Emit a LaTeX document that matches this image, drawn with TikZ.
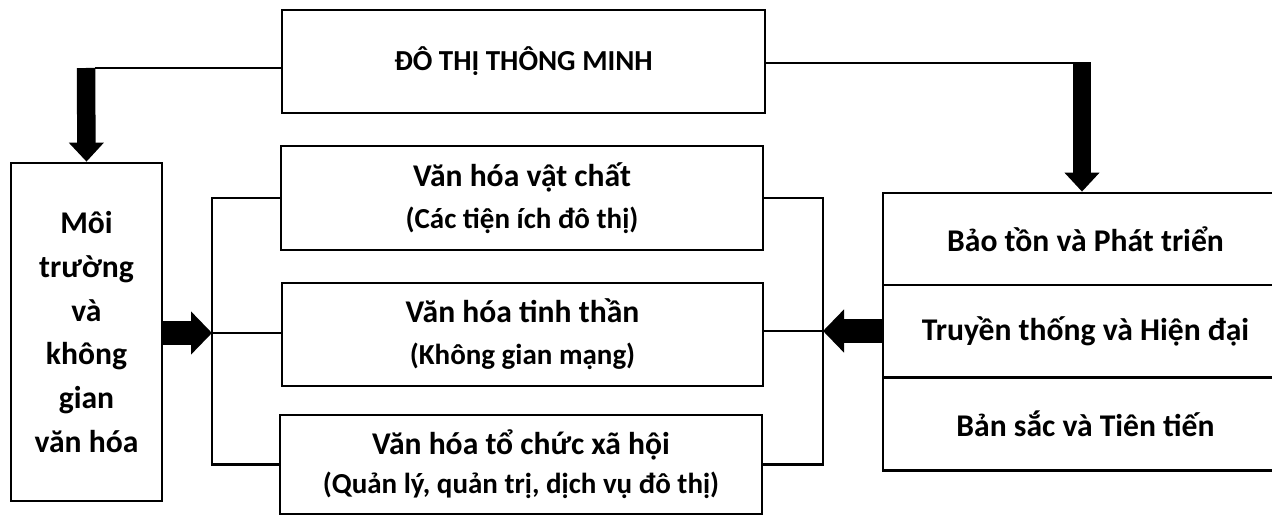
\documentclass[tikz,border=0pt]{standalone}
\usepackage{fontspec}
\setmainfont{Carlito}
\usetikzlibrary{arrows.meta,calc}
\newcommand\mysub[1]{{\fontsize{16.5}{25}\selectfont #1}}
\begin{document}
\begin{tikzpicture}[x=0.02cm,y=-0.02cm,
  box/.style={draw, line width=1.6pt, inner sep=0pt, align=center,
    font=\bfseries\fontsize{18}{25}\selectfont},
  conn/.style={line width=1.5pt},
  bigv/.style={line width=0.37cm, -{Triangle[length=0.38cm,width=0.68cm]}},
  bigh/.style={line width=0.48cm, -{Triangle[length=0.42cm,width=0.84cm]}},
]
\useasboundingbox (0,0) rectangle (1272,517);

% top box
\node[box, minimum width=9.66cm, minimum height=2.06cm,
  font=\bfseries\fontsize{16.5}{25}\selectfont] (top) at (523.5,61.5) {ĐÔ THỊ THÔNG MINH};

% left box
\node[box, minimum width=3.02cm, minimum height=6.76cm] (left) at (86.5,332)
  {Môi\\trường\\và\\không\\gian\\văn hóa};

% middle boxes
\node[box, minimum width=9.64cm, minimum height=2.08cm] (m1) at (522,198)
  {Văn hóa vật chất\\[-1pt]\mysub{(Các tiện ích đô thị)}};
\node[box, minimum width=9.62cm, minimum height=2.06cm] (m2) at (522.5,334.5)
  {Văn hóa tinh thần\\[-1pt]\mysub{(Không gian mạng)}};
\node[box, minimum width=9.64cm, minimum height=1.98cm] (m3) at (521,464.5)
  {Văn hóa tổ chức xã hội\\[-3pt]\mysub{(Quản lý, quản trị, dịch vụ đô thị)}};

% right stacked box (its right side runs past the picture's edge)
\node[box, minimum width=8.1cm, minimum height=1.84cm] (r1) at (1085.5,239) {Bảo tồn và Phát triển};
\node[box, minimum width=8.1cm, minimum height=1.84cm] (r2) at (1085.5,331) {Truyền thống và Hiện đại};
\node[box, minimum width=8.1cm, minimum height=1.86cm] (r3) at (1085.5,424) {Bản sắc và Tiên tiến};

% top connectors
\coordinate (tl) at (86,68);
\coordinate (tr) at (1082,63);
\draw[conn] (tl -| top.west) -- ([xshift=0.18cm]tl);
\draw[bigv] (tl) -- (left.north);
\draw[conn] (top.east |- tr) -- ([xshift=0.18cm]tr);
\draw[bigv] (tr) -- (tr |- r1.north);

% left bracket
\coordinate (L) at (212,333);
\draw[conn] (m1.west) -| (L) |- (m3.west);
\draw[conn] (L) -- (L -| m2.west);
\draw[bigh] (left.east |- L) -- (L);

% right bracket
\coordinate (R) at (823,331);
\draw[conn] (m1.east) -| (R) |- (m3.east);
\draw[conn] (R) -- (R -| m2.east);
\draw[bigh] (r2.west) -- (R);
\end{tikzpicture}
\end{document}
